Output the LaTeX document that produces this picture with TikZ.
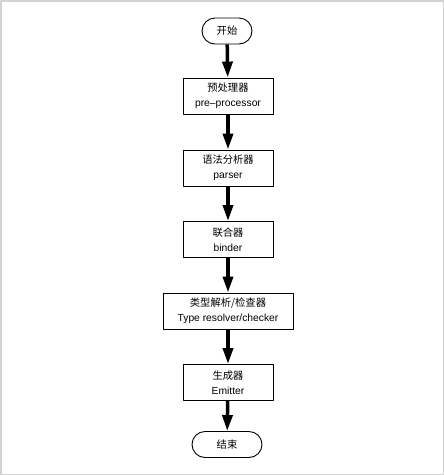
\documentclass[tikz,border=0pt]{standalone}
\usepackage{fontspec}
\setmainfont{Liberation Sans}
\newfontfamily\cjk{Noto Sans CJK SC}
\usetikzlibrary{arrows.meta}
\begin{document}
\begin{tikzpicture}[x=1pt, y=-1pt, font=\fontsize{10.3}{15}\selectfont, line join=round,
  >={Triangle[length=16pt, width=10pt]},
  box/.style={draw, line width=0.9pt, minimum width=90pt, minimum height=36pt, align=center, inner sep=2pt},
  term/.style={draw, line width=0.9pt, rounded corners=13pt, minimum height=26pt, inner sep=2pt},
  flow/.style={->, line width=3.5pt}]
  \useasboundingbox (0,0) rectangle (444,475);
  % Rahmen
  \draw[gray!35, line width=1.5pt] (0.75,0.75) rectangle (443.25,474.25);
  % Knoten
  \node[term, minimum width=50pt] (start) at (227,31) {\cjk 开始};
  \node[box] (pre) at (228,96) {{\cjk 预处理器}\\pre–processor};
  \node[box] (parser) at (228,168) {{\cjk 语法分析器}\\parser};
  \node[box] (binder) at (228,239.5) {{\cjk 联合器}\\binder};
  \node[box, minimum width=130pt] (checker) at (228,311) {{\cjk 类型解析/检查器}\\Type resolver/checker};
  \node[box] (emitter) at (228,382.5) {{\cjk 生成器}\\Emitter};
  \node[term, minimum width=70pt] (stop) at (227,444.5) {\cjk 结束};
  % Pfeile
  \draw[flow] (start) -- (pre);
  \draw[flow] (pre) -- (parser);
  \draw[flow] (parser) -- (binder);
  \draw[flow] (binder) -- (checker);
  \draw[flow] (checker) -- (emitter);
  \draw[flow] (emitter) -- (stop);
\end{tikzpicture}
\end{document}
